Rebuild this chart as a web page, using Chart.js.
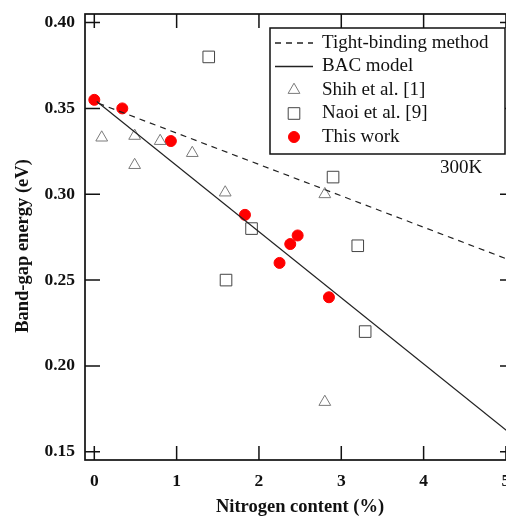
<!DOCTYPE html>
<html>
<head>
<meta charset="utf-8">
<script src="https://cdn.jsdelivr.net/npm/chart.js@4.4.0/dist/chart.umd.min.js"></script>
<style>
  html, body { margin: 0; padding: 0; overflow: hidden; background: #fff; }
</style>
</head>
<body>
<canvas id="c" width="516" height="518"></canvas>
<script>
const xTicks = [0, 1, 2, 3, 4, 5];
const yTicks = [0.15, 0.20, 0.25, 0.30, 0.35, 0.40];

const tightX = [0.05, 5.11];
const tightY = [0.353, 0.2605];
const bacX = [0.03, 5.11];
const bacY = [0.354, 0.1585];

const shihX = [0.09, 0.49, 0.49, 0.80, 1.19, 1.59, 2.80, 2.80];
const shihY = [0.333, 0.334, 0.317, 0.331, 0.324, 0.301, 0.300, 0.179];

const naoiX = [1.39, 1.60, 1.91, 2.90, 3.20, 3.29];
const naoiY = [0.380, 0.250, 0.280, 0.310, 0.270, 0.220];

const workX = [0.00, 0.34, 0.93, 1.83, 2.25, 2.38, 2.47, 2.85];
const workY = [0.355, 0.350, 0.331, 0.288, 0.260, 0.271, 0.276, 0.240];

const yTitle = 'Band-gap energy (eV)';

const pts = (xs, ys) => xs.map((x, i) => ({ x, y: ys[i] }));

Chart.defaults.font.family = "'Liberation Serif', 'DejaVu Serif', serif";
Chart.defaults.color = '#111';

// frame with inward ticks, legend box, y title, temperature note
const frame = {
  id: 'frame',
  afterDatasetsDraw(chart) {
    const { ctx, chartArea: a, scales: { x, y } } = chart;
    ctx.save();
    ctx.strokeStyle = '#111';
    ctx.lineWidth = 1.7;
    ctx.strokeRect(a.left, a.top, a.right - a.left, a.bottom - a.top);
    ctx.lineWidth = 1.5;
    ctx.beginPath();
    xTicks.forEach(v => {
      const px = x.getPixelForValue(v);
      ctx.moveTo(px, a.bottom); ctx.lineTo(px, a.bottom - 14);
      ctx.moveTo(px, a.top); ctx.lineTo(px, a.top + 14);
    });
    yTicks.forEach(v => {
      const py = y.getPixelForValue(v);
      ctx.moveTo(a.left, py); ctx.lineTo(a.left + 15, py);
      ctx.moveTo(a.right, py); ctx.lineTo(a.right - 15, py);
    });
    ctx.stroke();

    // legend
    const bx = 270, by = 28, bw = 235, bh = 126;
    ctx.fillStyle = '#fff';
    ctx.fillRect(bx, by, bw, bh);
    ctx.strokeRect(bx, by, bw, bh);
    ctx.font = "19px 'Liberation Serif'";
    ctx.textBaseline = 'middle';
    chart.data.datasets.forEach((ds, i) => {
      const ly = 43 + i * 23.5;
      ctx.save();
      ctx.strokeStyle = ds.borderColor;
      if (ds.showLine) {
        ctx.lineWidth = 1.3;
        ctx.setLineDash(ds.borderDash || []);
        ctx.beginPath();
        ctx.moveTo(275, ly); ctx.lineTo(313, ly);
        ctx.stroke();
      } else {
        ctx.fillStyle = ds.backgroundColor;
        ctx.lineWidth = ds.borderWidth;
        Chart.helpers.drawPoint(ctx, {
          pointStyle: ds.pointStyle,
          radius: ds.pointRadius,
          borderWidth: ds.borderWidth,
          rotation: 0
        }, 294, ly);
      }
      ctx.restore();
      ctx.fillStyle = '#111';
      ctx.fillText(ds.label, 322, ly);
    });

    ctx.textAlign = 'center';
    ctx.fillText('300K', 461, 168);

    ctx.translate(23, 246);
    ctx.rotate(-Math.PI / 2);
    ctx.font = "bold 18.5px 'Liberation Serif'";
    ctx.fillText(yTitle, 0, 0);
    ctx.restore();
  }
};

new Chart(document.getElementById('c'), {
  type: 'scatter',
  data: {
    datasets: [
      {
        label: 'Tight-binding method',
        data: pts(tightX, tightY),
        showLine: true,
        borderColor: '#222',
        borderWidth: 1.2,
        borderDash: [6, 5],
        pointRadius: 0
      },
      {
        label: 'BAC model',
        data: pts(bacX, bacY),
        showLine: true,
        borderColor: '#222',
        borderWidth: 1.2,
        pointRadius: 0
      },
      {
        label: 'Shih et al. [1]',
        data: pts(shihX, shihY),
        pointStyle: 'triangle',
        pointRadius: 6.8,
        borderWidth: 1,
        borderColor: '#7a7a7a',
        backgroundColor: 'rgba(0,0,0,0)'
      },
      {
        label: 'Naoi et al. [9]',
        data: pts(naoiX, naoiY),
        pointStyle: 'rect',
        pointRadius: 8.2,
        borderWidth: 1,
        borderColor: '#444',
        backgroundColor: 'rgba(0,0,0,0)'
      },
      {
        label: 'This work',
        data: pts(workX, workY),
        pointStyle: 'circle',
        pointRadius: 5.5,
        borderWidth: 1,
        borderColor: '#ff0000',
        backgroundColor: '#ff0000'
      }
    ]
  },
  options: {
    responsive: false,
    animation: false,
    layout: { padding: { top: 14, right: 1, bottom: 0, left: 0 }, autoPadding: false },
    plugins: { legend: { display: false }, tooltip: { enabled: false } },
    scales: {
      x: {
        type: 'linear',
        min: -0.113,
        max: 5.11,
        grid: { display: false, drawTicks: false, tickLength: 0 },
        border: { display: false },
        afterBuildTicks: s => { s.ticks = xTicks.map(v => ({ value: v })); },
        afterFit: s => { s.height = 58; s.paddingLeft = 0; s.paddingRight = 0; },
        ticks: { padding: 11, font: { size: 17.5, weight: 'bold' }, color: '#111' },
        title: {
          display: true,
          text: 'Nitrogen content (%)',
          font: { size: 18.5, weight: 'bold' },
          color: '#111',
          padding: { top: 0, bottom: 0 }
        }
      },
      y: {
        type: 'linear',
        min: 0.1452,
        max: 0.405,
        grid: { display: false, drawTicks: false, tickLength: 0 },
        border: { display: false },
        afterBuildTicks: s => { s.ticks = yTicks.map(v => ({ value: v })); },
        afterFit: s => { s.width = 85; s.paddingTop = 0; s.paddingBottom = 0; },
        ticks: {
          padding: 10,
          font: { size: 17.5, weight: 'bold' },
          color: '#111',
          callback: v => v.toFixed(2)
        }
      }
    }
  },
  plugins: [frame]
});
</script>
</body>
</html>
